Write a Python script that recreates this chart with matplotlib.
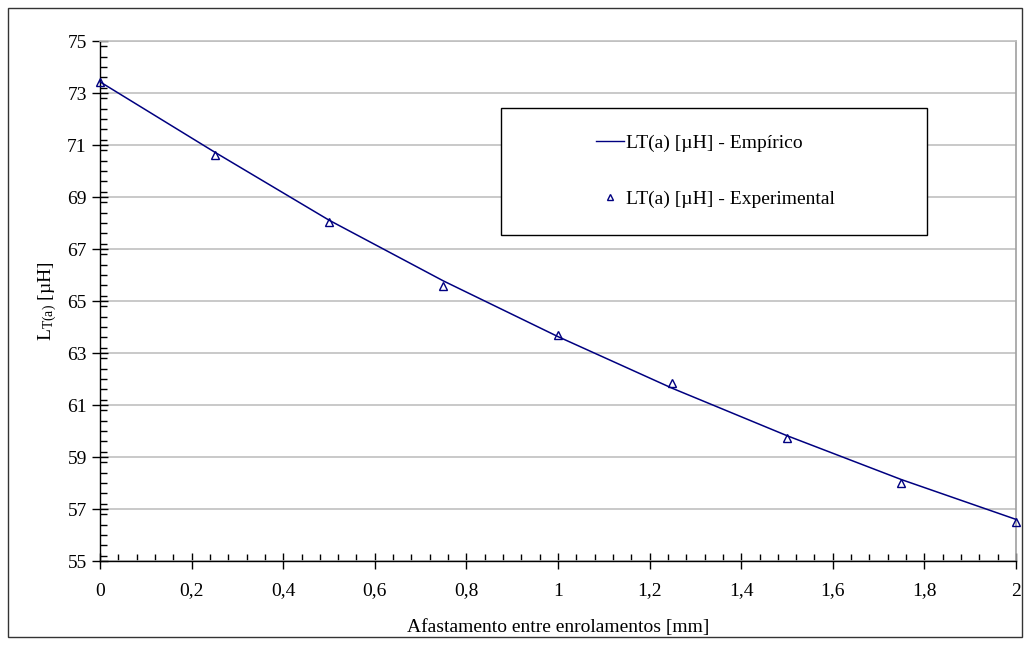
import matplotlib
matplotlib.use("Agg")
import matplotlib.pyplot as plt
from matplotlib.lines import Line2D
from matplotlib.patches import Rectangle
from matplotlib.ticker import MultipleLocator, FixedLocator

plt.rcParams['font.family'] = ['Liberation Serif', 'DejaVu Serif']
plt.rcParams['mathtext.fontset'] = 'custom'
plt.rcParams['mathtext.rm'] = 'Liberation Serif'
plt.rcParams['mathtext.it'] = 'Liberation Serif:italic'

# Data
afastamento = [0, 0.25, 0.5, 0.75, 1.0, 1.25, 1.5, 1.75, 2.0]
lt_empirico = [73.43, 70.73, 68.11, 65.77, 63.63, 61.64, 59.82, 58.13, 56.60]
lt_experimental = [73.41, 70.63, 68.03, 65.57, 63.69, 61.83, 59.72, 57.99, 56.51]
x_ticks = [0, 0.2, 0.4, 0.6, 0.8, 1.0, 1.2, 1.4, 1.6, 1.8, 2.0]
x_tick_labels = ['0', '0,2', '0,4', '0,6', '0,8', '1', '1,2', '1,4', '1,6', '1,8', '2']
y_ticks = [55, 57, 59, 61, 63, 65, 67, 69, 71, 73, 75]
y_tick_labels = ['55', '57', '59', '61', '63', '65', '67', '69', '71', '73', '75']

W, H = 1030, 645
fig = plt.figure(figsize=(W / 100, H / 100), dpi=100)
navy = '#000080'
fs = 14

ax = fig.add_axes([100 / W, (H - 561) / H, 916 / W, 520 / H])
ax.plot(afastamento, lt_empirico, color=navy, lw=1.1, zorder=3, clip_on=False)
ax.plot(afastamento, lt_experimental, linestyle='none', marker='^', markersize=6,
        markerfacecolor='none', markeredgecolor=navy, markeredgewidth=1.0, zorder=4, clip_on=False)

ax.set_xlim(0, 2)
ax.set_ylim(55, 75)
ax.xaxis.set_major_locator(FixedLocator(x_ticks))
ax.set_xticklabels(x_tick_labels)
ax.xaxis.set_minor_locator(MultipleLocator(0.04))
ax.yaxis.set_major_locator(FixedLocator(y_ticks))
ax.set_yticklabels(y_tick_labels)
ax.yaxis.set_minor_locator(MultipleLocator(0.4))

ax.grid(axis='y', which='major', color='#c0c0c0', lw=1.2, zorder=0)
ax.set_axisbelow(True)

ax.tick_params(axis='both', which='major', direction='inout', length=11, width=1.0,
               colors='black', labelsize=fs)
ax.tick_params(axis='x', which='major', pad=10)
ax.tick_params(axis='y', which='major', pad=4)
ax.tick_params(axis='both', which='minor', direction='in', length=5, width=1.0)

for s in ['left', 'bottom']:
    ax.spines[s].set_color('black')
    ax.spines[s].set_linewidth(1.0)
ax.spines['top'].set_color('#c0c0c0')
ax.spines['top'].set_linewidth(1.2)
ax.spines['right'].set_color('#a0a0a0')
ax.spines['right'].set_linewidth(1.2)

ax.set_xlabel('Afastamento entre enrolamentos [mm]', fontsize=fs, labelpad=14)
ax.set_ylabel(r'L$_{\mathrm{T(a)}}$ [µH]', fontsize=fs, labelpad=6)

# Legend box
box = Rectangle((501 / W, 1 - 235 / H), 426 / W, 127 / H, transform=fig.transFigure,
                facecolor='white', edgecolor='black', lw=1.0, zorder=5)
fig.patches.append(box)
h1 = Line2D([], [], color=navy, lw=1.0)
h2 = Line2D([], [], linestyle='none', marker='^', markersize=4.5, markerfacecolor='none',
            markeredgecolor=navy, markeredgewidth=1.0)
leg = fig.legend([h1, h2], ['LT(a) [µH] - Empírico', 'LT(a) [µH] - Experimental'],
                 loc='upper left', bbox_to_anchor=(596 / W, 1 - 134 / H),
                 frameon=False, fontsize=fs, handlelength=1.43, handletextpad=0.1,
                 labelspacing=1.97, borderpad=0, borderaxespad=0)
leg.set_zorder(6)

# Outer border
border = Rectangle((8 / W, 8 / H), (W - 16) / W, (H - 16) / H, transform=fig.transFigure,
                   facecolor='none', edgecolor='#333333', lw=1.0, zorder=10)
fig.patches.append(border)

fig.savefig('out.png', dpi=100)
